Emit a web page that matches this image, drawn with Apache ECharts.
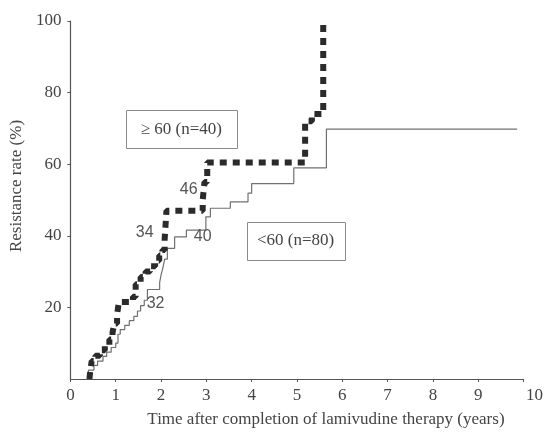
<!DOCTYPE html>
<html>
<head>
<meta charset="utf-8">
<script src="https://cdn.jsdelivr.net/npm/echarts@6/dist/echarts.min.js"></script>
<style>
  html, body { margin: 0; padding: 0; background: #fff; }
  #chart { width: 546px; height: 433px; }
</style>
</head>
<body>
<div id="chart"></div>
<script>
// Cumulative resistance rate (%) by years after lamivudine therapy ended.
// Each point is a step: from that year onward the curve sits at that rate.
const highYears = [0.42, 0.44, 0.47, 0.55, 0.65, 0.76, 0.86, 0.93, 0.97, 1.03, 1.07,
                   1.38, 1.44, 1.55, 1.66, 1.76, 1.87, 1.96, 2.03, 2.08, 2.12,
                   2.92, 2.96, 3.02, 5.18, 5.33, 5.58];
const highRates = [0, 2.5, 5, 6.5, 8, 9.5, 11, 13, 15.5, 18, 21.5,
                   23, 26.5, 28.5, 30, 31.5, 33, 34.5, 36, 39, 47,
                   50, 55, 60.5, 72, 74, 100];

const lowYears = [0.38, 0.40, 0.52, 0.60, 0.72, 0.80, 0.90, 1.00, 1.05, 1.10, 1.20,
                  1.30, 1.40, 1.48, 1.55, 1.63, 1.70, 1.97, 2.00, 2.04, 2.08, 2.14,
                  2.30, 2.56, 2.99, 3.09, 3.53, 3.92, 4.00, 4.93, 5.65, 9.86];
const lowRates = [0, 2.5, 3.8, 5, 6.3, 7.5, 8.8, 10, 12.5, 13.8, 15,
                  16.3, 17.5, 19, 20.5, 22, 25, 27, 29, 31, 33.5, 36.5,
                  39.7, 41.6, 45.3, 47.7, 49.5, 51.9, 54.6, 59, 69.8, 69.8];

const groupLabels = ['\u2265 60 (n=40)', '<60 (n=80)'];
const riskLabels = ['34', '32', '40', '46'];

const serif = 'Liberation Serif';
const sans = 'Liberation Sans';
const textColor = '#444';
const pair = (xs, ys) => xs.map((x, i) => [x, ys[i]]);

const chart = echarts.init(document.getElementById('chart'), null, { renderer: 'canvas' });

chart.setOption({
  animation: false,
  backgroundColor: '#fff',
  grid: { left: 65, right: 18, top: 21, bottom: 54 },
  xAxis: {
    type: 'value', min: 0, max: 10, interval: 1,
    name: 'Time after completion of lamivudine therapy (years)',
    nameLocation: 'middle', nameGap: 32,
    nameTextStyle: { fontFamily: serif, fontSize: 17, color: textColor, padding: [0, 0, 0, 58] },
    axisLine: { show: true, lineStyle: { color: '#555', width: 1.2 } },
    axisTick: { show: true, length: 3, lineStyle: { color: '#555' } },
    splitLine: { show: false },
    axisLabel: {
      margin: 8, fontFamily: serif, fontSize: 17, color: textColor,
      formatter: v => (v === 10 ? '{r|10}' : String(v)),
      rich: { r: { padding: [0, 0, 0, 22], fontFamily: serif, fontSize: 17, color: textColor } }
    }
  },
  yAxis: {
    type: 'value', min: 0, max: 100, interval: 20,
    name: 'Resistance rate (%)',
    nameLocation: 'middle', nameGap: 36, nameRotate: 90,
    nameTextStyle: { fontFamily: serif, fontSize: 17, color: textColor, padding: [0, 0, 0, 28] },
    axisLine: { show: true, lineStyle: { color: '#555', width: 1.2 } },
    axisTick: { show: true, length: 3, lineStyle: { color: '#555' } },
    splitLine: { show: false },
    axisLabel: { margin: 9, showMinLabel: false, fontFamily: serif, fontSize: 17, color: textColor }
  },
  series: [
    {
      type: 'line', name: groupLabels[1], data: pair(lowYears, lowRates),
      step: 'end', symbol: 'none', z: 2,
      lineStyle: { color: '#707070', width: 1.2 }
    },
    {
      type: 'line', name: groupLabels[0], data: pair(highYears, highRates),
      step: 'end', symbol: 'none', z: 3,
      lineStyle: { color: '#2b2b2b', width: 6, type: [7, 6], cap: 'butt' }
    }
  ]
});

// Annotations are anchored in data units and converted to pixels.
const toPx = (x, y) => chart.convertToPixel({ gridIndex: 0 }, [x, y]);

function centeredText(text, cx, cy, family, size, color) {
  return {
    type: 'text',
    x: cx, y: cy,
    z: 12,
    style: {
      text: text, fill: color, fontFamily: family, fontSize: size,
      align: 'center', verticalAlign: 'middle',
      textAlign: 'center', textVerticalAlign: 'middle'
    }
  };
}

function boxedLabel(text, x0, y0, x1, y1) {
  const a = toPx(x0, y0), b = toPx(x1, y1);
  const w = b[0] - a[0], h = b[1] - a[1];
  return [
    {
      type: 'rect',
      z: 10,
      shape: { x: Math.round(a[0]) + 0.5, y: Math.round(a[1]) + 0.5, width: Math.round(w), height: Math.round(h) },
      style: { fill: '#fff', stroke: '#8a8a8a', lineWidth: 1 }
    },
    centeredText(text, a[0] + w / 2, a[1] + h / 2, serif, 17, textColor)
  ];
}

function plainLabel(text, x, y) {
  const p = toPx(x, y);
  return centeredText(text, p[0], p[1], sans, 16, '#555');
}

const riskAnchors = [[1.64, 40.8], [1.88, 21.2], [2.92, 39.7], [2.61, 52.8]];

chart.setOption({
  graphic: []
    .concat(boxedLabel(groupLabels[0], 1.23, 75.1, 3.67, 64.5))
    .concat(boxedLabel(groupLabels[1], 3.89, 43.9, 6.05, 33.2))
    .concat(riskLabels.map((t, i) => plainLabel(t, riskAnchors[i][0], riskAnchors[i][1])))
});
</script>
</body>
</html>
